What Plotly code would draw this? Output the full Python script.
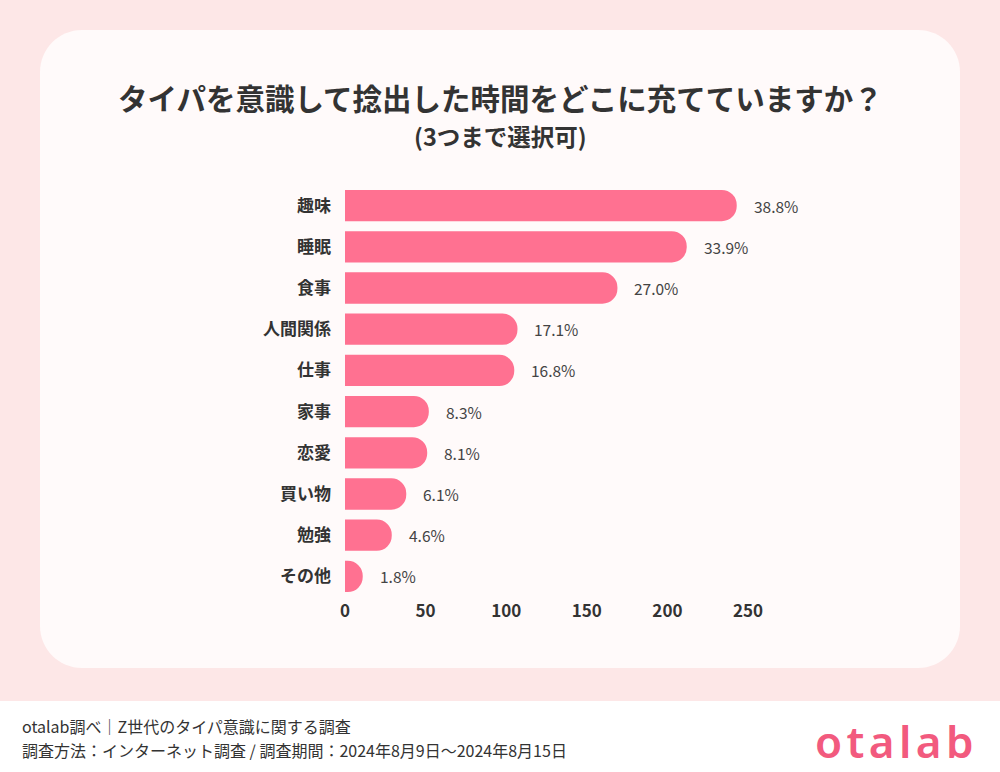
import plotly.graph_objects as go

# data (counts, top to bottom)
categories = ["趣味", "睡眠", "食事", "人間関係", "仕事", "家事", "恋愛", "買い物", "勉強", "その他"]
counts = [243, 212, 169, 107, 105, 52, 51, 38, 29, 11]
pct_labels = ["38.8%", "33.9%", "27.0%", "17.1%", "16.8%", "8.3%", "8.1%", "6.1%", "4.6%", "1.8%"]
x_ticks = [0, 50, 100, 150, 200, 250]

title = "タイパを意識して捻出した時間をどこに充てていますか？"
subtitle = "(3つまで選択可)"
footer_1 = "otalab調べ｜Z世代のタイパ意識に関する調査"
footer_2 = "調査方法：インターネット調査 / 調査期間：2024年8月9日〜2024年8月15日"

W, H = 1000, 772
ML, MR, MT, MB = 345, 252, 185, 175
PW = W - ML - MR
PH = H - MT - MB

FONT = "Noto Sans CJK JP"
BAR = "#FF7191"
INK = "#333333"


def px(x):
    return (x - ML) / PW


def py(y):
    return (H - MB - y) / PH


def rounded_rect(x0, y0, x1, y1, r):
    """SVG path in paper coords for a rounded rect given in pixels."""
    k = 0.5523 * r
    pts = [
        f"M {px(x0 + r)},{py(y0)}",
        f"L {px(x1 - r)},{py(y0)}",
        f"C {px(x1 - r + k)},{py(y0)} {px(x1)},{py(y0 + r - k)} {px(x1)},{py(y0 + r)}",
        f"L {px(x1)},{py(y1 - r)}",
        f"C {px(x1)},{py(y1 - r + k)} {px(x1 - r + k)},{py(y1)} {px(x1 - r)},{py(y1)}",
        f"L {px(x0 + r)},{py(y1)}",
        f"C {px(x0 + r - k)},{py(y1)} {px(x0)},{py(y1 - r + k)} {px(x0)},{py(y1 - r)}",
        f"L {px(x0)},{py(y0 + r)}",
        f"C {px(x0)},{py(y0 + r - k)} {px(x0 + r - k)},{py(y0)} {px(x0 + r)},{py(y0)}",
        "Z",
    ]
    return " ".join(pts)


fig = go.Figure()

fig.add_trace(go.Bar(
    x=counts,
    y=categories,
    orientation="h",
    marker=dict(color=BAR, line=dict(width=0)),
    hoverinfo="skip",
))

shapes = [
    dict(type="path", xref="paper", yref="paper", layer="below",
         path=rounded_rect(40, 30, 960, 668, 42),
         fillcolor="#FFFAFA", line=dict(width=0)),
    dict(type="rect", xref="paper", yref="paper", layer="below",
         x0=px(0), x1=px(W), y0=py(H), y1=py(701),
         fillcolor="#FFFFFF", line=dict(width=0)),
]

annotations = []
for cat, val, lab in zip(categories, counts, pct_labels):
    annotations.append(dict(
        x=val, y=cat, xref="x", yref="y", text=lab, showarrow=False,
        xanchor="left", xshift=15,
        font=dict(family=FONT, size=15.5, color="#444444"),
    ))

annotations += [
    dict(x=px(500), y=py(97), xref="paper", yref="paper", text=f"<b>{title}</b>",
         showarrow=False, xanchor="center", yanchor="middle",
         font=dict(family=FONT, size=29.5, color=INK)),
    dict(x=px(500), y=py(136), xref="paper", yref="paper", text=f"<b>{subtitle}</b>",
         showarrow=False, xanchor="center", yanchor="middle",
         font=dict(family=FONT, size=23.5, color=INK)),
    dict(x=px(20), y=py(726), xref="paper", yref="paper", text=footer_1,
         showarrow=False, xanchor="left", yanchor="middle",
         font=dict(family=FONT, size=16, color=INK)),
    dict(x=px(20), y=py(750), xref="paper", yref="paper", text=footer_2,
         showarrow=False, xanchor="left", yanchor="middle",
         font=dict(family=FONT, size=16, color=INK)),
    dict(x=px(976), y=py(741), xref="paper", yref="paper",
         text="o\u200at\u200aa\u200al\u200aa\u200ab",
         showarrow=False, xanchor="right", yanchor="middle",
         font=dict(family="Noto Sans", size=44, color="#F25A7E", weight=600)),
]

fig.update_layout(
    width=W, height=H,
    margin=dict(l=ML, r=MR, t=MT, b=MB),
    paper_bgcolor="#FDE7E7",
    plot_bgcolor="rgba(0,0,0,0)",
    showlegend=False,
    bargap=0.24,
    barcornerradius="50%",
    shapes=shapes,
    annotations=annotations,
    xaxis=dict(
        range=[0, 250], tickvals=x_ticks, showgrid=False, zeroline=False,
        showline=False, ticks="", ticklabelstandoff=2,
        tickfont=dict(family=FONT, size=17, color=INK, weight="bold"),
        fixedrange=True,
    ),
    yaxis=dict(
        autorange="reversed", showgrid=False, zeroline=False, showline=False,
        ticks="", ticklabelstandoff=13,
        tickfont=dict(family=FONT, size=17, color=INK, weight="bold"),
        fixedrange=True,
    ),
)

# drop the browser's default 8px body margin so the figure fills the window
fig.write_html("out.html", config={"displayModeBar": False},
               post_script="document.body.style.margin='0';")
